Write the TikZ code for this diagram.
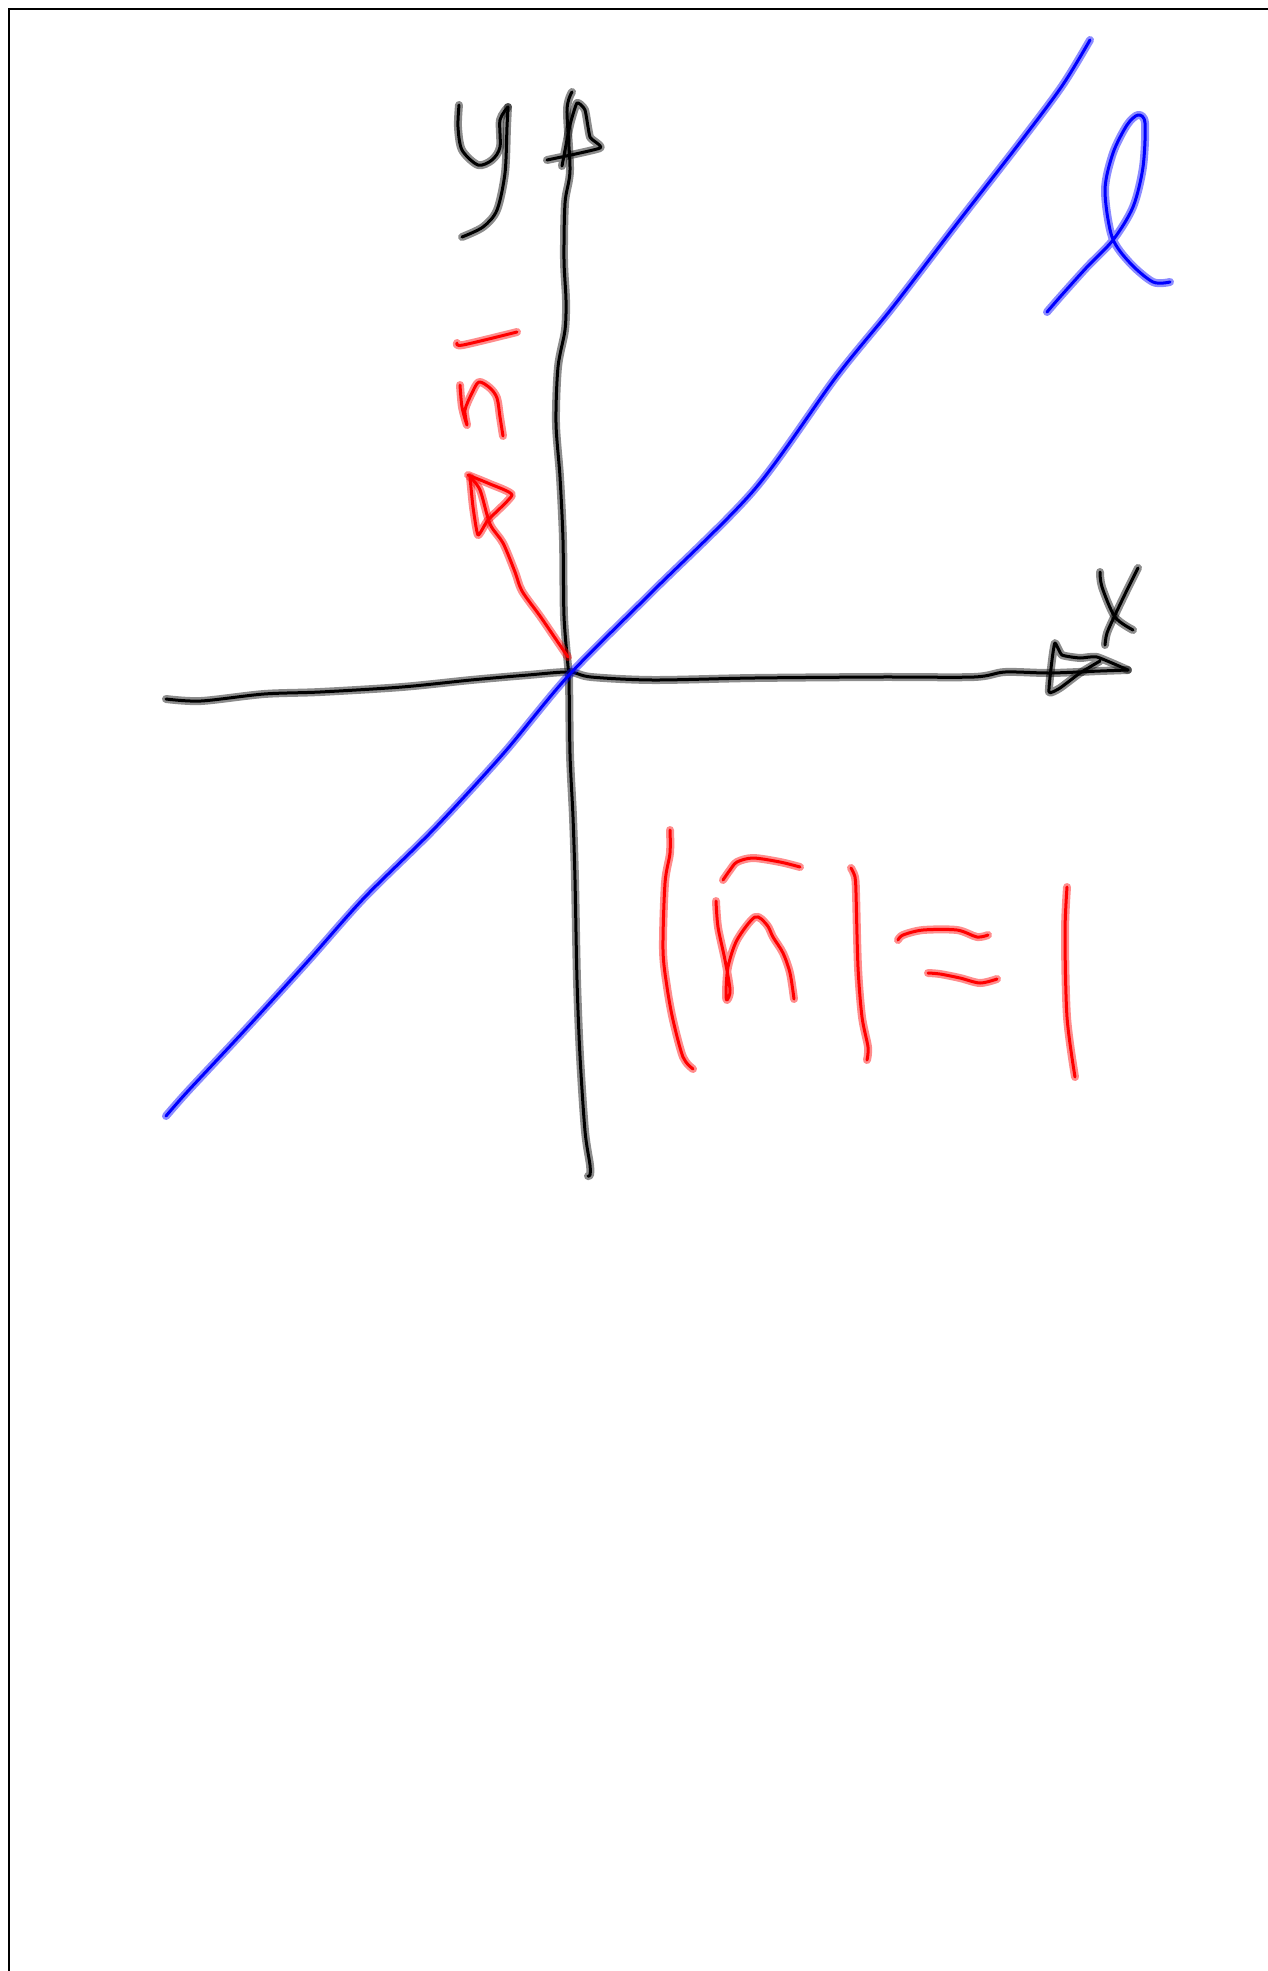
\documentclass[tikz,border=0pt]{standalone}
\begin{document}
\begin{tikzpicture}[x=1pt,y=-1pt,
  ink/.style={draw=#1, line width=3pt, line cap=round, line join=round,
    preaction={draw=#1, draw opacity=0.45, line width=8pt, line cap=round, line join=round}},
  frame/.style={draw=black, line width=2.6pt}]
\useasboundingbox (0,0) rectangle (1268,1971);
% frame
\draw[frame] (1268,9) -- (9,9) -- (9,1971);
% x axis
\draw[ink=black] plot[smooth] coordinates {(166,699) (201,701) (264,694) (320,692) (402,687) (471,680) (528,675) (569,672) (591,677) (653,680) (754,678) (880,677) (974,677) (1005,672) (1050,673) (1100,671) (1128,670)};
% x arrowhead
\draw[ink=black] plot[smooth,tension=0.3] coordinates {(1128,670) (1097,657) (1080,658) (1062,655) (1055,643) (1052,660) (1049,692) (1060,688) (1080,673) (1100,661)};
% y axis
\draw[ink=black] plot[smooth] coordinates {(572,92) (567,110) (570,170) (565,203) (564,260) (566,300) (565,330) (558,367) (556,423) (560,477) (563,540) (564,616) (568,666) (569,675) (570,754) (573,817) (575,880) (577,980) (580,1056) (585,1131) (590,1165) (590,1175) (588,1176)};
% y arrowhead
\draw[ink=black] plot[smooth,tension=0.3] coordinates {(547,160) (600,148) (590,137) (585,110) (577,103) (570,125) (562,166)};
% y letter
\draw[ink=black] plot[smooth] coordinates {(459,105) (458,127) (462,150) (478,165) (492,160) (500,147) (500,120) (508,107)};
\draw[ink=black] plot[smooth] coordinates {(508,107) (507,127) (505,173) (497,210) (483,227) (462,237)};
% x letter
\draw[ink=black] plot[smooth] coordinates {(1100,572) (1102,587) (1115,617) (1133,630)};
\draw[ink=black] plot[smooth] coordinates {(1138,568) (1127,590) (1115,615) (1107,633) (1105,645)};
% line l
\draw[ink=blue] plot[smooth] coordinates {(166,1116) (188,1091) (245,1030) (308,961) (364,898) (434,829) (503,754) (569,675) (653,591) (754,490) (836,377) (892,308) (955,226) (1018,145) (1062,86) (1090,40)};
% script l
\draw[ink=blue] plot[smooth] coordinates {(1047,312) (1060,297) (1087,267) (1113,240) (1133,207) (1143,167) (1145,123) (1138,115) (1127,125) (1113,153) (1105,190) (1112,237) (1130,263) (1153,282) (1170,282)};
% normal vector
\draw[ink=red] plot[smooth] coordinates {(568,657) (553,635) (540,616) (522,591) (515,572) (503,543) (490,524) (480,490) (470,477)};
\draw[ink=red] plot[smooth,tension=0.3] coordinates {(468,475) (490,484) (512,495) (488,520) (478,535) (473,507) (470,477)};
% n hat label (rotated)
\draw[ink=red] plot[smooth] coordinates {(457,343) (463,345) (517,332)};
\draw[ink=red] plot[smooth] coordinates {(460,385) (462,407) (467,425) (465,410) (472,393) (479,382) (490,388) (497,398) (500,417) (503,436)};
% |n| = 1
\draw[ink=red] plot[smooth] coordinates {(670,830) (670,853) (665,883) (663,950) (667,987) (673,1020) (683,1057) (693,1069)};
\draw[ink=red] plot[smooth] coordinates {(723,880) (730,870) (737,862) (753,858) (780,862) (800,867)};
\draw[ink=red] plot[smooth] coordinates {(716,901) (718,927) (725,960) (730,990) (727,1000) (726,993) (728,967) (737,940) (755,917) (767,925) (773,937) (783,953) (790,973) (794,999)};
\draw[ink=red] plot[smooth] coordinates {(851,868) (855,877) (856,893) (858,967) (862,1017) (868,1047) (867,1060)};
\draw[ink=red] plot[smooth] coordinates {(898,940) (903,935) (923,930) (957,930) (977,937) (988,935)};
\draw[ink=red] plot[smooth] coordinates {(928,973) (940,974) (960,978) (980,983) (997,979)};
\draw[ink=red] plot[smooth] coordinates {(1067,887) (1065,933) (1067,1017) (1075,1077)};
\end{tikzpicture}
\end{document}
